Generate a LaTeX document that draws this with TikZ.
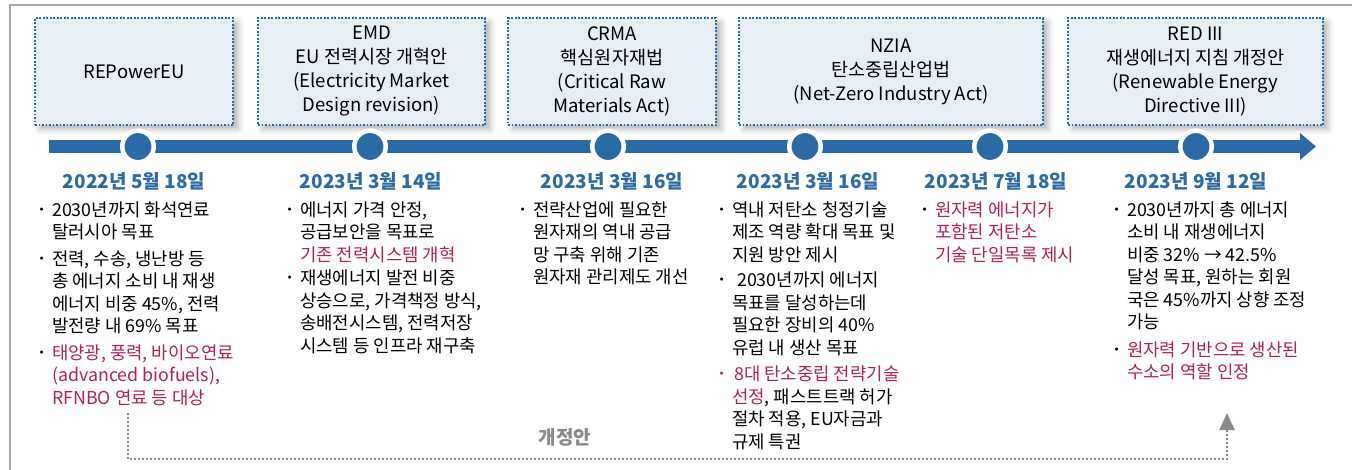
\documentclass[tikz,border=0pt]{standalone}
\usepackage{fontspec}
\setmainfont{Noto Sans CJK KR}
\newfontfamily\symfont{DejaVu Sans}
\usepackage{tikz}
\usetikzlibrary{arrows.meta, positioning, calc, shadows.blur}
\usepackage{xcolor}
\definecolor{barblue}{HTML}{2C6AA5}
\definecolor{boxfill}{HTML}{E8EEF6}
\definecolor{hilite}{HTML}{B0205E}
\definecolor{framegray}{HTML}{A8A8A8}
\definecolor{linkgray}{HTML}{8A8A8A}

\newcommand{\hl}[1]{\textcolor{hilite}{#1}}
\newcommand{\bul}{\makebox[13.5pt][l]{\raisebox{3pt}{\symfont\fontsize{10.5}{10.5}\selectfont •}}}

\tikzset{
  actbox/.style={draw=barblue, fill=boxfill, line width=1.7pt, dash pattern=on 1.7pt off 1.8pt,
    minimum height=107pt, inner sep=0pt, align=center, font=\fontsize{18.5}{24}\selectfont,
    blur shadow={shadow xshift=5pt, shadow yshift=-4pt, shadow blur radius=6pt, shadow opacity=30}},
  timebar/.style={barblue, line width=13pt, -{Triangle[length=16pt, width=26pt]}},
  milestone/.style={circle, fill=barblue, draw=white, line width=4.5pt, minimum size=31.5pt, inner sep=0pt},
  datelbl/.style={text=barblue, inner sep=0pt, font=\fontsize{19}{19}\selectfont\bfseries},
  notes/.style={anchor=north west, inner sep=0pt, align=left, font=\fontsize{17.8}{22.5}\selectfont},
  revlink/.style={linkgray, line width=2pt, dash pattern=on 2pt off 2pt, -{Triangle[length=17pt, width=15pt]}},
  revlabel/.style={text=linkgray, font=\fontsize{19}{19}\selectfont\bfseries}
}

\begin{document}
\begin{tikzpicture}[x=1pt, y=-1pt]
\useasboundingbox (0,0) rectangle (1352,469);
% outer frame
\draw[framegray, line width=1.4pt] (10,480) -- (10,5) -- (1360,5);

% policy boxes
\node[actbox, minimum width=198pt] (repower) at (134,71.5) {REPowerEU};
\node[actbox, minimum width=227pt] (emd) at (371.5,71.5) {EMD\\EU 전력시장 개혁안\\(Electricity Market\\Design revision)};
\node[actbox, minimum width=208pt] (crma) at (612,71.5) {CRMA\\핵심원자재법\\(Critical Raw\\Materials Act)};
\node[actbox, minimum width=304pt] (nzia) at (891,71.5) {NZIA\\탄소중립산업법\\(Net-Zero Industry Act)};
\node[actbox, minimum width=255pt] (red) at (1195.5,71.5) {RED III\\재생에너지 지침 개정안\\(Renewable Energy\\Directive III)};

% timeline
\coordinate (tl-start) at (49,146.5);
\coordinate (tl-end) at (1316,146.5);
\draw[timebar] (tl-start) -- (tl-end);
\foreach \x/\n in {138/m1, 370/m2, 608/m3, 805/m4, 990/m5, 1196/m6}
  \node[milestone] (\n) at (\x,146.5) {};

% dates
\node[datelbl, below=8pt of m1, xshift=-4pt] (d1) {2022년 5월 18일};
\node[datelbl, below=8pt of m2, xshift=1pt] (d2) {2023년 3월 14일};
\node[datelbl, below=8pt of m3, xshift=4pt] (d3) {2023년 3월 16일};
\node[datelbl, below=8pt of m4, xshift=3pt] (d4) {2023년 3월 16일};
\node[datelbl, below=8pt of m5, xshift=6pt] (d5) {2023년 7월 18일};
\node[datelbl, below=8pt of m6] (d6) {2023년 9월 12일};

% notes
\node[notes] (n1) at (38.5,200.5) {\begin{tabular}{@{}l@{}l@{}}
\bul & 2030년까지 화석연료\\ & 탈러시아 목표\\[4pt]
\bul & 전력, 수송, 냉난방 등\\ & 총 에너지 소비 내 재생\\ & 에너지 비중 45\%, 전력\\ & 발전량 내 69\% 목표\\[4pt]
\bul & \hl{태양광, 풍력, 바이오연료}\\ & \hl{(advanced biofuels),}\\ & \hl{RFNBO 연료 등 대상}
\end{tabular}};
\node[notes] (n2) at (286.5,200.5) {\begin{tabular}{@{}l@{}l@{}}
\bul & 에너지 가격 안정,\\ & 공급보안을 목표로\\ & \hl{기존 전력시스템 개혁}\\[1pt]
\bul & 재생에너지 발전 비중\\ & 상승으로, 가격책정 방식,\\ & 송배전시스템, 전력저장\\ & 시스템 등 인프라 재구축
\end{tabular}};
\node[notes] (n3) at (519.5,200.5) {\begin{tabular}{@{}l@{}l@{}}
\bul & 전략산업에 필요한\\ & 원자재의 역내 공급\\ & 망 구축 위해 기존\\ & 원자재 관리제도 개선
\end{tabular}};
\node[notes] (n4) at (718.5,200.5) {\begin{tabular}{@{}l@{}l@{}}
\bul & 역내 저탄소 청정기술\\ & 제조 역량 확대 목표 및\\ & 지원 방안 제시\\[3pt]
\bul & \hspace{5pt}2030년까지 에너지\\ & 목표를 달성하는데\\ & 필요한 장비의 40\%\\ & 유럽 내 생산 목표\\[4pt]
\hl{\bul} & \hl{\hspace{2pt}8대 탄소중립 전략기술}\\ & \hl{선정}, 패스트트랙 허가\\ & 절차 적용, EU자금과\\ & 규제 특권
\end{tabular}};
\node[notes] (n5) at (921.5,200.5) {\begin{tabular}{@{}l@{}l@{}}
\bul & \hl{원자력 에너지가}\\ & \hl{포함된 저탄소}\\ & \hl{기술 단일목록 제시}
\end{tabular}};
\node[notes] (n6) at (1113.5,200.5) {\begin{tabular}{@{}l@{}l@{}}
\bul & 2030년까지 총 에너지\\ & 소비 내 재생에너지\\ & 비중 32\% → 42.5\%\\ & 달성 목표, 원하는 회원\\ & 국은 45\%까지 상향 조정\\ & 가능\\[5pt]
\bul & \hl{원자력 기반으로 생산된}\\ & \hl{수소의 역할 인정}
\end{tabular}};

% revision link
\coordinate (rev-from) at (128,413);
\coordinate (rev-to) at (1227,413);
\draw[revlink] (rev-from) -- ++(0,46) -| (rev-to);
\node[revlabel] (rev-label) at (565,437) {개정안};
\end{tikzpicture}
\end{document}
